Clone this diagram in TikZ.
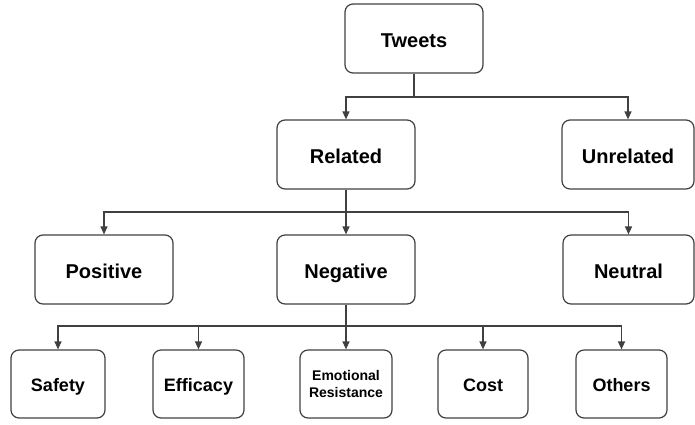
\documentclass[tikz,border=0pt]{standalone}
\usepackage{fontspec}
\setmainfont{Liberation Sans}
\usepackage{tikz}
\usetikzlibrary{arrows.meta, positioning}
\tikzset{
  treebox/.style={draw=black!75, rounded corners=4pt, align=center, font=\bfseries\fontsize{10}{12}\selectfont,
                  line width=0.6pt, minimum height=34.5pt, inner sep=2pt, text height=9.5pt, text depth=0.5pt},
  leafbox/.style={treebox, minimum height=34pt, font=\bfseries\fontsize{9}{11}\selectfont,
                  text height=8pt, text depth=1pt},
  treearrow/.style={-{Triangle[length=4pt, width=3.5pt]}, line width=0.6pt, black!75},
  treeline/.style={line width=0.6pt, black!75}
}

\begin{document}
\begin{tikzpicture}[x=0.5pt, y=-0.5pt]
\useasboundingbox (0,0) rectangle (695,424);

% Root
\node[treebox, minimum width=69pt] (tweets) at (414,38.5) {Tweets};

% First split
\node[treebox, minimum width=69pt] (related)   at (346,154.5) {Related};
\node[treebox, minimum width=66pt] (unrelated) at (628,154.5) {Unrelated};

% Sentiment
\node[treebox, minimum width=69pt] (positive) at (104,269.5) {Positive};
\node[treebox, minimum width=69pt] (negative) at (346,269.5) {Negative};
\node[treebox, minimum width=65.5pt] (neutral) at (628.5,269.5) {Neutral};

% Negative reasons
\node[leafbox, minimum width=47pt]   (safety)    at (58,384)    {Safety};
\node[leafbox, minimum width=45.5pt] (efficacy)  at (198.5,384) {Efficacy};
\node[leafbox, minimum width=46pt, text height={}, text depth={},
      font=\bfseries\fontsize{7}{8.5}\selectfont]
                                     (emotional) at (346,384)   {Emotional\\Resistance};
\node[leafbox, minimum width=45pt]   (cost)      at (483,384)   {Cost};
\node[leafbox, minimum width=45.5pt] (others)    at (621.5,384) {Others};

% Bus points
\coordinate (tbus) at (414,97);
\coordinate (rbus) at (346,212);
\coordinate (nbus) at (346,326);

% Arrows
\draw[treeline] (tweets) -- (tbus);
\draw[treearrow] (tbus) -| (related);
\draw[treearrow] (tbus) -| (unrelated);

\draw[treeline] (related) -- (rbus);
\draw[treearrow] (rbus) -| (positive);
\draw[treearrow] (rbus) -- (negative);
\draw[treearrow] (rbus) -| (neutral);

\draw[treeline] (negative) -- (nbus);
\draw[treearrow] (nbus) -| (safety);
\draw[treearrow] (nbus) -| (efficacy);
\draw[treearrow] (nbus) -- (emotional);
\draw[treearrow] (nbus) -| (cost);
\draw[treearrow] (nbus) -| (others);

\end{tikzpicture}
\end{document}
